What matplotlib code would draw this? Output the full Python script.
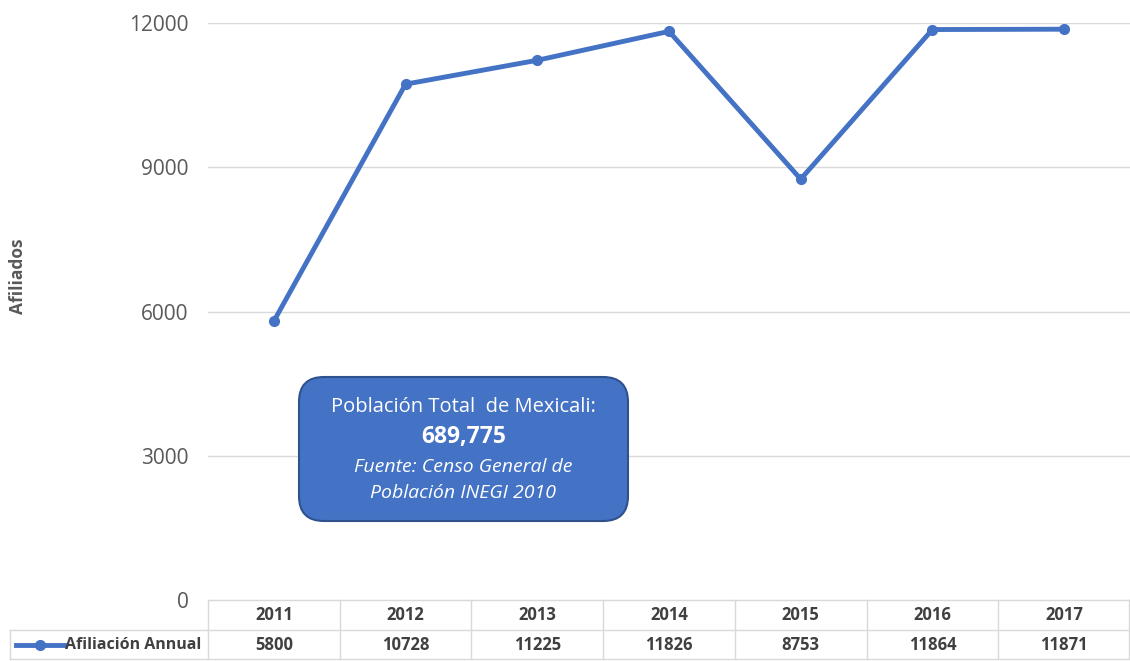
import numpy as np
import matplotlib.pyplot as plt
from matplotlib.patches import FancyBboxPatch
from matplotlib.lines import Line2D

years = ['2011', '2012', '2013', '2014', '2015', '2016', '2017']
afiliacion = [5800, 10728, 11225, 11826, 8753, 11864, 11871]
yticks = [0, 3000, 6000, 9000, 12000]
serie = 'Afiliación Annual'

W, H = 1130, 661
fig = plt.figure(figsize=(W / 100, H / 100), dpi=100)
plt.rcParams['font.family'] = ['Open Sans', 'DejaVu Sans']

# plot area in pixels
x0, x1 = 208, 1130
y_top, y_zero = 23, 600
ax = fig.add_axes([x0 / W, 1 - y_zero / H, (x1 - x0) / W, (y_zero - y_top) / H])

blue = '#4472C4'
grid = '#D9D9D9'
x = np.arange(len(years))

ax.plot(x, afiliacion, color=blue, lw=3.5, marker='o', ms=7, clip_on=False,
        solid_capstyle='round', zorder=3)
ax.set_xlim(-0.5, len(years) - 0.5)
ax.set_ylim(0, 12000)
ax.set_yticks(yticks)
ax.set_yticklabels([str(t) for t in yticks], fontsize=15, color='#595959')
ax.tick_params(axis='y', length=0, pad=14)
ax.set_xticks([])
for t in yticks[1:]:
    ax.axhline(t, color=grid, lw=1, zorder=1)
for s in ax.spines.values():
    s.set_visible(False)

fig.text(18 / W, 1 - 276 / H, 'Afiliados', rotation=90, ha='center', va='center',
         fontsize=12.5, fontweight='bold', color='#595959')

# data table under the axis
def fx(px):
    return px / W

def fy(py):
    return 1 - py / H

col_w = (x1 - x0) / len(years)
lines = [
    ([x0, x1], [600, 600]),
    ([10, x1], [630, 630]),
    ([10, x1], [659, 659]),
    ([10, 10], [630, 659]),
]
for i in range(len(years) + 1):
    xp = x0 + i * col_w
    lines.append(([min(xp, x1 - 1), min(xp, x1 - 1)], [600, 659]))
for xs, ys in lines:
    fig.add_artist(Line2D([fx(v) for v in xs], [fy(v) for v in ys], color=grid, lw=1))

trans = ax.get_xaxis_transform()
row1 = -(615 - y_zero) / (y_zero - y_top)
row2 = -(645 - y_zero) / (y_zero - y_top)
for i, (yr, v) in enumerate(zip(years, afiliacion)):
    ax.text(i, row1, yr, transform=trans, ha='center', va='center', fontsize=12,
            fontweight='bold', color='#404040', clip_on=False)
    ax.text(i, row2, str(v), transform=trans, ha='center', va='center', fontsize=12,
            fontweight='bold', color='#404040', clip_on=False)

fig.add_artist(Line2D([fx(16), fx(64)], [fy(645), fy(645)], color=blue, lw=3.5))
fig.add_artist(Line2D([fx(40)], [fy(645)], color=blue, marker='o', ms=7))
fig.text(fx(65), fy(645), serie, ha='left', va='center', fontsize=11.5,
         fontweight='bold', color='#404040')

# annotation box
bx0, bx1, by0, by1 = 299, 628, 377, 521
box = FancyBboxPatch((fx(bx0), fy(by1)), fx(bx1) - fx(bx0), fy(by0) - fy(by1),
                     boxstyle='round,pad=0,rounding_size=0.022',
                     transform=fig.transFigure, facecolor=blue, edgecolor='#2F528F',
                     lw=1.5, mutation_aspect=W / H, zorder=5)
fig.add_artist(box)
cx = fx((bx0 + bx1) / 2)
fig.text(cx, fy(407), 'Población Total  de Mexicali:', ha='center', va='center',
         fontsize=14.5, color='white', zorder=6)
fig.text(cx, fy(437), '689,775', ha='center', va='center', fontsize=16.5,
         fontweight='bold', color='white', zorder=6)
fig.text(cx, fy(467), 'Fuente: Censo General de', ha='center', va='center',
         fontsize=14, style='italic', color='white', zorder=6)
fig.text(cx, fy(493), 'Población INEGI 2010', ha='center', va='center',
         fontsize=14, style='italic', color='white', zorder=6)

fig.savefig('out.png', dpi=100, facecolor='white')
